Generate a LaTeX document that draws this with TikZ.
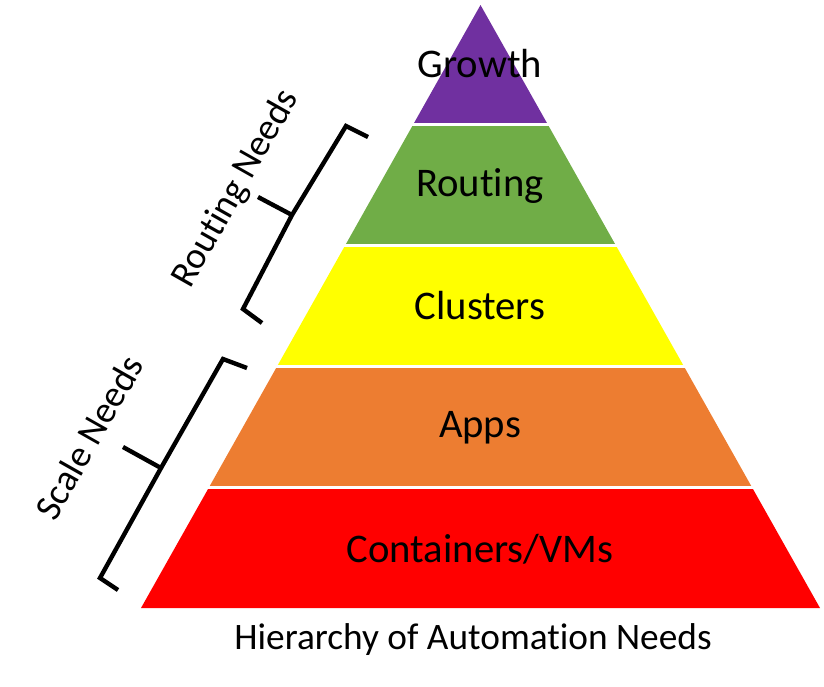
\documentclass[tikz,border=0pt]{standalone}
\usepackage{fontspec}
\setmainfont{Carlito}[Ligatures=NoCommon]
\definecolor{pPurple}{HTML}{7030A0}
\definecolor{pGreen}{HTML}{70AD47}
\definecolor{pYellow}{HTML}{FFFF00}
\definecolor{pOrange}{HTML}{ED7D31}
\definecolor{pRed}{HTML}{FF0000}
\begin{document}
\begin{tikzpicture}[x=0.75pt,y=-0.75pt,
  sep/.style={draw=white,line width=1.9pt},
  lvl/.style={font=\fontsize{30.5}{36}\selectfont,inner sep=0pt},
  side/.style={font=\fontsize{28}{33}\selectfont,inner sep=0pt,rotate=60.5},
  brace/.style={draw=black,line width=3.3pt,line join=miter}]
\useasboundingbox (0,0) rectangle (824,686);
% bands
\fill[pPurple] (480.5,5) -- (547.8,124.5) -- (413.2,124.5) -- cycle;
\fill[pGreen] (413.2,124.5) -- (547.8,124.5) -- (615.9,245.5) -- (345.1,245.5) -- cycle;
\fill[pYellow] (345.1,245.5) -- (615.9,245.5) -- (684.0,366.5) -- (277.0,366.5) -- cycle;
\fill[pOrange] (277.0,366.5) -- (684.0,366.5) -- (752.1,487.5) -- (208.9,487.5) -- cycle;
\fill[pRed] (208.9,487.5) -- (752.1,487.5) -- (820,608) -- (141,608) -- cycle;
\draw[sep] (405,124.5) -- (556,124.5);
\draw[sep] (337,245.5) -- (624,245.5);
\draw[sep] (269,366.5) -- (692,366.5);
\draw[sep] (200,487.5) -- (760,487.5);
% labels
\node[lvl] (growth) at (480,64) {Growth};
\node[lvl] (routing) at (480,186) {Routing};
\node[lvl] (clusters) at (480,306) {Clusters};
\node[lvl] (apps) at (480,428) {Apps};
\node[lvl] (cont) at (480,549) {Containers/VMs};
\node[font=\fontsize{28}{33}\selectfont,inner sep=0pt] (title) at (473,640) {Hierarchy of Automation Needs};
% braces
\coordinate (rA) at (368,137);
\coordinate (rB) at (346,126);
\coordinate (rM) at (292,215);
\coordinate (rT) at (258,197);
\coordinate (rC) at (243,309);
\coordinate (rD) at (262,323);
\draw[brace] (rA) -- (rB) -- (rM) -- (rC) -- (rD);
\draw[brace] (rM) -- (rT);
\coordinate (sA) at (247,368);
\coordinate (sB) at (223,359);
\coordinate (sM) at (161,468);
\coordinate (sT) at (123,447);
\coordinate (sC) at (100,578);
\coordinate (sD) at (118,590);
\draw[brace] (sA) -- (sB) -- (sM) -- (sC) -- (sD);
\draw[brace] (sM) -- (sT);
\node[side] (rneeds) at (236,189) {Routing Needs};
\node[side] (sneeds) at (89,437) {Scale Needs};
\end{tikzpicture}
\end{document}
